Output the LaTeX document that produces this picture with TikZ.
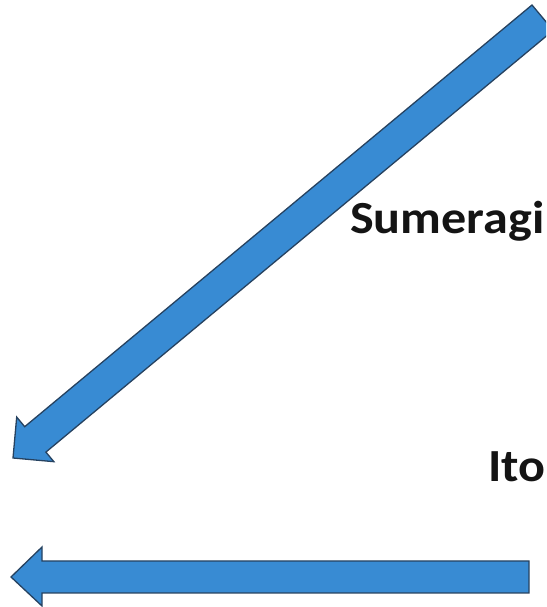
\documentclass[tikz,border=0pt]{standalone}
\usepackage{fontspec}
\setmainfont{Carlito}
\usetikzlibrary{calc}
\definecolor{arrowfill}{RGB}{56,139,211}
\definecolor{arrowline}{RGB}{38,66,96}
\tikzset{
  blockarrow/.style={fill=arrowfill,draw=arrowline,line width=1.3pt,line join=miter},
  lbl/.style={anchor=base west,inner sep=0pt,xscale=1.09,font=\fontsize{46}{52}\selectfont\bfseries,text=black!92}
}
\begin{document}
\begin{tikzpicture}[x=1pt,y=1pt]
\useasboundingbox (0,0) rectangle (546,607);
\clip (0,0) rectangle (546,607);
% diagonal arrow (image coords converted: y_tikz = 607 - y_img)
\coordinate (dtip) at (13,149);
\coordinate (dw1) at (16.7,189.9);
\coordinate (dn1) at (24.7,180.3);
\coordinate (de1) at (532,602);
\coordinate (de2) at (553.2,576.6);
\coordinate (dn2) at (45.9,154.9);
\coordinate (dw2) at (53.9,145.3);
\draw[blockarrow] (dtip) -- (dw1) -- (dn1) -- (de1) -- (de2) -- (dn2) -- (dw2) -- cycle;
% horizontal arrow
\coordinate (htip) at (11,30);
\coordinate (hw1) at (42,60);
\coordinate (hn1) at (42,46);
\coordinate (he1) at (529,46);
\coordinate (he2) at (529,14);
\coordinate (hn2) at (42,14);
\coordinate (hw2) at (42,1);
\draw[blockarrow] (htip) -- (hw1) -- (hn1) -- (he1) -- (he2) -- (hn2) -- (hw2) -- cycle;
\node[lbl] (sumeragi) at (350,373) {Sumeragi};
\node[lbl] (ito) at (488,125) {Ito};
\end{tikzpicture}
\end{document}
